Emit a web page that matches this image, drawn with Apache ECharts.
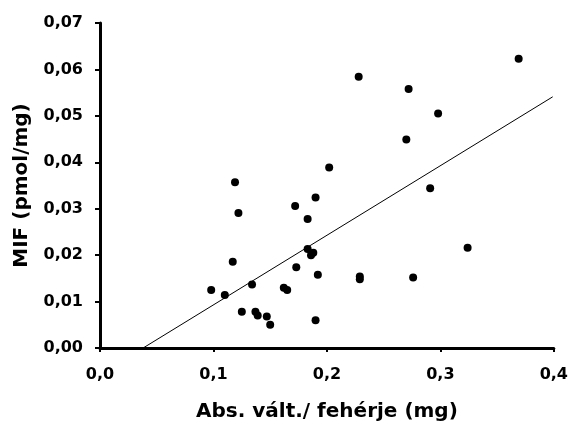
<!DOCTYPE html>
<html>
<head>
<meta charset="utf-8">
<script src="https://cdn.jsdelivr.net/npm/echarts@6/dist/echarts.min.js"></script>
<style>
  html, body { margin: 0; padding: 0; background: #fff; }
  #chart { width: 571px; height: 427px; }
</style>
</head>
<body>
<div id="chart"></div>
<script>
// Absorbance change per protein (mg) vs. MIF (pmol/mg)
const absChange = [
  0.098, 0.110, 0.117, 0.119, 0.122, 0.125, 0.134, 0.137, 0.139, 0.147,
  0.150, 0.162, 0.165, 0.172, 0.173, 0.183, 0.183, 0.186, 0.188, 0.190,
  0.190, 0.192, 0.202, 0.228, 0.229, 0.229, 0.270, 0.272, 0.276, 0.291,
  0.298, 0.324, 0.369
];
const mifValues = [
  0.0125, 0.0114, 0.0186, 0.0357, 0.0291, 0.0078, 0.0137, 0.0078, 0.0070, 0.0068,
  0.0050, 0.0130, 0.0125, 0.0306, 0.0174, 0.0278, 0.0213, 0.0200, 0.0205, 0.0324,
  0.0060, 0.0158, 0.0389, 0.0584, 0.0154, 0.0148, 0.0449, 0.0558, 0.0152, 0.0344,
  0.0505, 0.0216, 0.0623
];
// regression line end points
const trendX = [0.038, 0.399];
const trendY = [0.0, 0.0541];

const xTicks = { min: 0, max: 0.4, interval: 0.1 };
const yTicks = { min: 0, max: 0.07, interval: 0.01 };

const points = absChange.map((x, i) => [x, mifValues[i]]);
const trend = trendX.map((x, i) => [x, trendY[i]]);

const font = '"DejaVu Sans", Arial, sans-serif';
const comma = (v, d) => v.toFixed(d).replace('.', ',');

const chart = echarts.init(document.getElementById('chart'));
chart.setOption({
  animation: false,
  backgroundColor: '#fff',
  grid: { left: 100, top: 23, width: 455, height: 326, containLabel: false },
  xAxis: {
    type: 'value',
    min: xTicks.min, max: xTicks.max, interval: xTicks.interval,
    name: 'Abs. vált./ fehérje (mg)',
    nameLocation: 'middle',
    nameGap: 54,
    nameTextStyle: { fontFamily: font, fontWeight: 'bold', fontSize: 20, color: '#000' },
    axisLine: { lineStyle: { color: '#000', width: 3 } },
    axisTick: { show: true, length: 4, lineStyle: { color: '#000', width: 2 } },
    axisLabel: {
      margin: 19,
      fontFamily: font, fontWeight: 'bold', fontSize: 16, color: '#000',
      formatter: v => comma(v, 1)
    },
    splitLine: { show: false }
  },
  yAxis: {
    type: 'value',
    min: yTicks.min, max: yTicks.max, interval: yTicks.interval,
    name: 'MIF (pmol/mg)',
    nameLocation: 'middle',
    nameGap: 68,
    nameTextStyle: { fontFamily: font, fontWeight: 'bold', fontSize: 20, color: '#000' },
    axisLine: { lineStyle: { color: '#000', width: 3 } },
    axisTick: { show: true, length: 5, lineStyle: { color: '#000', width: 2 } },
    axisLabel: {
      margin: 17,
      fontFamily: font, fontWeight: 'bold', fontSize: 16, color: '#000',
      formatter: v => comma(v, 2)
    },
    splitLine: { show: false }
  },
  series: [
    {
      type: 'line',
      data: trend,
      showSymbol: false,
      symbol: 'none',
      lineStyle: { color: '#000', width: 1 },
      z: 1
    },
    {
      type: 'scatter',
      data: points,
      symbol: 'circle',
      symbolSize: 8,
      itemStyle: { color: '#000', opacity: 1 },
      z: 2
    }
  ]
});
</script>
</body>
</html>
